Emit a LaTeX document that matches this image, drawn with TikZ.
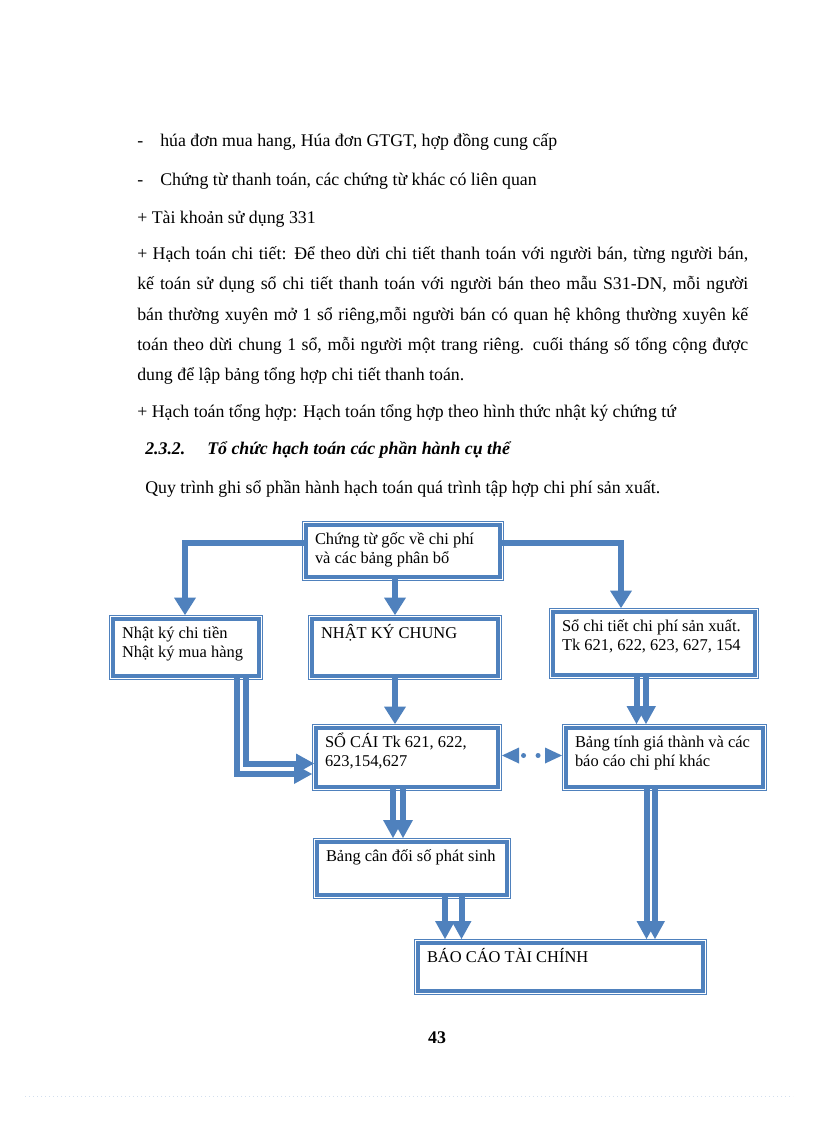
\documentclass[tikz,border=0pt]{standalone}
\usepackage{fontspec}
\setmainfont{Liberation Serif}
\usetikzlibrary{arrows.meta}
\definecolor{bl}{RGB}{79,129,189}
\newcommand\bodyfont{\fontsize{13.36pt}{16pt}\selectfont}
\newcommand\boxfont{\fontsize{12.34pt}{14.25pt}\selectfont}
% name, x1, y1, x2, y2, text  (outer extent in px)
\newcommand\mkbox[6]{%
  \pgfmathsetmacro\bw{(#4-#2-8-18)*0.75}%
  \pgfmathsetmacro\bh{(#5-#3-8-4)*0.75}%
  \node[boxnode] (#1) at (#2+4,#3+4)
    {\parbox[t][\bh pt][t]{\bw pt}{\boxfont\rule{0pt}{12.75pt}#6}};
  \draw[frame] (#2+0.5,#3+0.5) rectangle (#4-0.5,#5-0.5);
}
\begin{document}
\begin{tikzpicture}[x=0.75pt,y=-0.75pt,
  boxnode/.style={draw=bl, line width=3pt, fill=white, anchor=north west,
    outer sep=0pt, inner xsep=6.75pt, inner ysep=1.5pt, text=black},
  frame/.style={draw=bl, line width=0.75pt},
  arr/.style={draw=bl, line width=4.5pt,
    -{Triangle[width=16.5pt,length=13pt,line width=0pt]}},
  arrd/.style={draw=bl, line width=4.5pt,
    -{Triangle[width=15pt,length=13.5pt,line width=0pt]}},
  dotarr/.style={draw=bl, line width=3.75pt, line cap=round,
    dash pattern=on 0pt off 10.9pt, dash phase=7.5pt,
    {Triangle[width=12pt,length=12.75pt,line width=0pt]}-{Triangle[width=12pt,length=12.75pt,line width=0pt]}},
  bodytext/.style={anchor=base west, inner sep=0pt, font=\bodyfont}]
\useasboundingbox[fill=white] (0,0) rectangle (816,1123);

% ---------- body text ----------
\node[bodytext] (d1) at (137,146.5) {-};
\node[bodytext] (t1) at (160,146.5) {húa đơn mua hang, Húa đơn GTGT, hợp đồng cung cấp};
\node[bodytext] (d2) at (137,185.5) {-};
\node[bodytext] (t2) at (160,185.5) {Chứng từ thanh toán, các chứng từ khác có liên quan};
\node[bodytext] (t3) at (137,223.5) {+ Tài khoản sử dụng 331};
\node[bodytext] (p1) at (137,259.5) {\makebox[458.25pt][s]{+ Hạch toán chi tiết: Để theo dừi chi tiết thanh toán với người bán, từng người bán,}};
\node[bodytext] (p2) at (137,289.8) {\makebox[458.25pt][s]{kế toán sử dụng sổ chi tiết thanh toán với người bán theo mẫu S31-DN, mỗi người}};
\node[bodytext] (p3) at (137,320.1) {\makebox[458.25pt][s]{bán thường xuyên mở 1 sổ riêng,mỗi người bán có quan hệ không thường xuyên kế}};
\node[bodytext] (p4) at (137,350.4) {\makebox[458.25pt][s]{toán theo dừi chung 1 sổ, mỗi người một trang riêng. cuối tháng số tổng cộng được}};
\node[bodytext] (p5) at (137,380.7) {dung để lập bảng tổng hợp chi tiết thanh toán.};
\node[bodytext] (t4) at (137,417.5) {+ Hạch toán tổng hợp: Hạch toán tổng hợp theo hình thức nhật ký chứng tứ};
\node[bodytext, font=\bodyfont\bfseries\itshape] (h1) at (145,454.5) {2.3.2.};
\node[bodytext, font=\bodyfont\bfseries\itshape] (h2) at (207,454.5) {Tổ chức hạch toán các phần hành cụ thể};
\node[bodytext] (t5) at (145,493.5) {Quy trình ghi sổ phần hành hạch toán quá trình tập hợp chi phí sản xuất.};

% ---------- boxes ----------
\mkbox{A}{302}{521}{504}{581}{Chứng từ gốc về chi phí\\và các bảng phân bổ}
\mkbox{B}{109}{615}{263}{680}{Nhật ký chi tiền\\Nhật ký mua hàng}
\mkbox{C}{308}{615}{502}{680}{NHẬT KÝ CHUNG}
\mkbox{D}{549}{608}{759}{679}{Sổ chi tiết chi phí sản xuất.\\Tk 621, 622, 623, 627, 154}
\mkbox{E}{312}{724}{502}{791}{SỔ CÁI Tk 621, 622,\\623,154,627}
\mkbox{F}{562}{724}{767}{791}{Bảng tính giá thành và các\\báo cáo chi phí khác}
\mkbox{G}{313}{838}{511}{899}{Bảng cân đối số phát sinh}
\mkbox{H}{414}{939}{707}{995}{BÁO CÁO TÀI CHÍNH}

% ---------- connectors ----------
\draw[arr] ([shift={(0,-8)}]A.west) -| ([shift={(-1,-4)}]B.north);
\draw[arr] ([shift={(-8,0)}]A.south) -- ([shift={(-10,-4)}]C.north);
\draw[arr] ([shift={(0,-8)}]A.east) -| ([shift={(-33,-4)}]D.north);
\draw[arr] ([shift={(-10,0)}]C.south) -- ([shift={(-12,-4)}]E.north);
% D -> F double
\draw[arrd] ([shift={(-17.5,0)}]D.south) -- ([shift={(-28,-4)}]F.north);
\draw[arrd] ([shift={(-8,0)}]D.south) -- ([shift={(-18.5,-4)}]F.north);
% B -> E double elbow
\draw[arrd] ([shift={(50.5,0)}]B.south) |- ([shift={(-4,16.5)}]E.west);
\draw[arrd] ([shift={(60,0)}]B.south) |- ([shift={(-2,6)}]E.west);
% E <-> F dotted
\draw[dotarr] ([shift={(4,-2)}]E.east) -- ([shift={(-4,-2)}]F.west);
% E -> G double
\draw[arrd] ([shift={(-14,0)}]E.south) -- ([shift={(-19,-4)}]G.north);
\draw[arrd] ([shift={(-4,0)}]E.south) -- ([shift={(-9,-4)}]G.north);
% G -> H double
\draw[arrd] ([shift={(33,0)}]G.south) -- ([shift={(-115.5,-4)}]H.north);
\draw[arrd] ([shift={(49.5,0)}]G.south) -- ([shift={(-99,-4)}]H.north);
% F -> H double
\draw[arrd] ([shift={(-18,0)}]F.south) -- ([shift={(86,-4)}]H.north);
\draw[arrd] ([shift={(-9.5,0)}]F.south) -- ([shift={(94.5,-4)}]H.north);

% ---------- page number and footer line ----------
\node[bodytext, anchor=base, font=\bodyfont\bfseries] (pg) at (437,1043) {43};
\draw[bl!25, line width=0.6pt, dash pattern=on 0.6pt off 2.4pt] (25,1096) -- (793,1096);
\end{tikzpicture}
\end{document}
